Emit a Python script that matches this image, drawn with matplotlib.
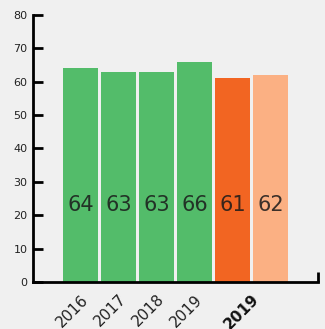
import matplotlib
matplotlib.use("Agg")
import matplotlib.pyplot as plt
import matplotlib.transforms as mtransforms

# chart values
bar_values = [64, 63, 63, 66, 61, 62]
bar_colors = ["#53bc6a", "#53bc6a", "#53bc6a", "#53bc6a", "#f26522", "#fbb083"]
tick_pos = [0, 1, 2, 3, 4.5]
tick_labels = ["2016", "2017", "2018", "2019", "2019"]
y_ticks = [0, 10, 20, 30, 40, 50, 60, 70, 80]

plt.rcParams['font.family'] = ['DejaVu Sans']

fig = plt.figure(figsize=(3.25, 3.29), dpi=100)
fig.patch.set_facecolor("#f0f0f0")
ax = fig.add_axes([0.1015, 0.1429, 0.8765, 0.8115])
ax.set_facecolor("#f0f0f0")

xs = list(range(len(bar_values)))
ax.bar(xs, bar_values, width=0.92, color=bar_colors, zorder=2)

for x, v in zip(xs, bar_values):
    ax.text(x, 23, str(v), ha="center", va="center", fontsize=15,
            family=["Liberation Sans Narrow", "DejaVu Sans"],
            color="#1a1a1a", alpha=0.85, zorder=3)

ax.set_xlim(-1.25, 6.25)
ax.set_ylim(0, 80)
ax.set_yticks(y_ticks)
ax.set_yticklabels([str(t) for t in y_ticks], fontsize=8, color="#222222")

ax.set_xticks(tick_pos)
ax.set_xticklabels(tick_labels, rotation=45, ha="right", rotation_mode="anchor",
                   fontsize=11, color="#222222")
ax.get_xticklabels()[-1].set_fontweight("bold")
ax.get_xticklabels()[-1].set_color("#111111")
shift = mtransforms.ScaledTranslation(-3 / 100, 0, fig.dpi_scale_trans)
for lab in ax.get_xticklabels():
    lab.set_transform(lab.get_transform() + shift)

# end tick on the right of the x axis
ax.set_xticks([6.25], minor=True)
ax.tick_params(axis="x", which="major", length=0, pad=7)
ax.tick_params(axis="x", which="minor", direction="in", length=7, width=2, color="black")
ax.tick_params(axis="y", which="major", direction="in", length=7, width=2, pad=4)

for s in ["top", "right"]:
    ax.spines[s].set_visible(False)
for s in ["left", "bottom"]:
    ax.spines[s].set_linewidth(2)
    ax.spines[s].set_color("black")

fig.savefig("out.png", dpi=100, facecolor=fig.get_facecolor())
